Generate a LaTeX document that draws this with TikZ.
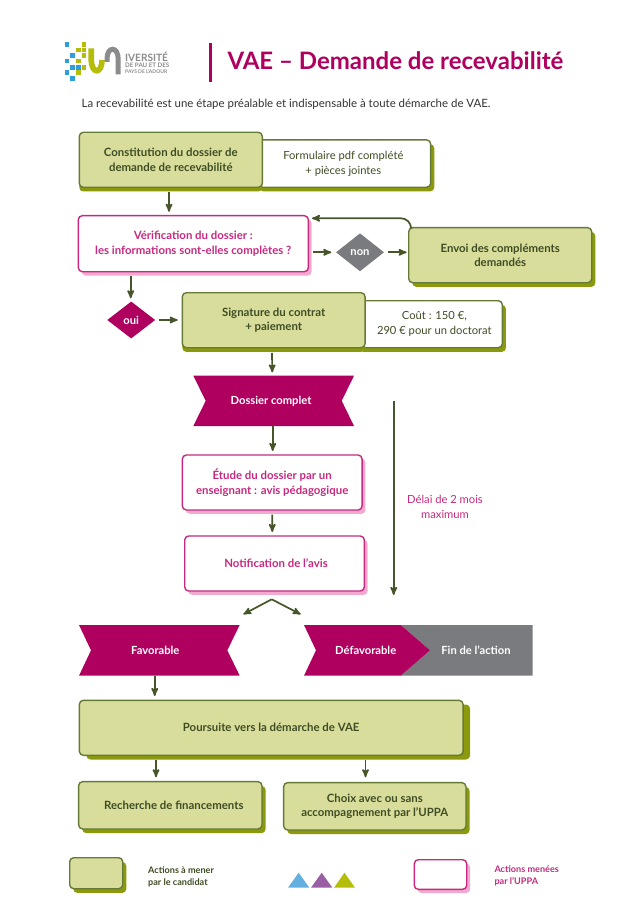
\documentclass[tikz,border=0pt]{standalone}
\usepackage{fontspec}
\setmainfont{Lato}
\usetikzlibrary{shapes.geometric,arrows,positioning,calc,shadows}
\definecolor{leaf}{HTML}{D9DD9B}
\definecolor{leafline}{HTML}{667A38}
\definecolor{leafshade}{HTML}{8A9A0C}
\definecolor{ink}{HTML}{3F4D25}
\definecolor{flowline}{HTML}{47552A}
\definecolor{plum}{HTML}{B0005F}
\definecolor{plumline}{HTML}{C52A80}
\definecolor{plumshade}{HTML}{F3A8CF}
\definecolor{slate}{HTML}{7A7B7E}
\definecolor{logoblue}{HTML}{2F9FDC}
\definecolor{logolime}{HTML}{B4BE0A}
\definecolor{logogrey}{HTML}{8C8C8C}
\definecolor{tripurple}{HTML}{9A5FA3}
\definecolor{triblue}{HTML}{63AFE0}

\begin{document}
\begin{tikzpicture}[x=1pt,y=-1pt,
	 body/.style={font=\fontsize{11.2}{14.7}\selectfont,align=center,inner sep=0pt},
	 greenbox/.style={body,rectangle,rounded corners=4pt,draw=leafline,line width=1.4pt,fill=leaf,text=ink,
		 font=\fontsize{11.4}{14.7}\selectfont\bfseries,
		 copy shadow={fill=leafshade,draw=none,shadow xshift=#1,shadow yshift=-4.2pt}},
	 greenbox/.default=3.6pt,
	 notebox/.style={body,rectangle,rounded corners=4pt,draw=leafline,line width=1.4pt,fill=white,text=ink,
		 copy shadow={fill=leafshade,draw=none,shadow xshift=3.6pt,shadow yshift=-4.2pt}},
	 plumbox/.style={body,rectangle,rounded corners=4pt,draw=plumline,line width=1.4pt,fill=white,text=plumline,
		 font=\fontsize{11.4}{14.7}\selectfont\bfseries,
		 copy shadow={fill=plumshade,draw=none,shadow xshift=3.4pt,shadow yshift=-3.8pt}},
	 choice/.style={diamond,aspect=1.27,inner sep=0pt,text=white,font=\fontsize{11.2}{13}\selectfont\bfseries},
	 ribbontext/.style={inner sep=0pt,text=white,font=\fontsize{11.2}{13}\selectfont\bfseries,minimum height=50.4pt},
	 flow/.style={draw=flowline,line width=1.7pt,-stealth'},
	 legendtext/.style={anchor=west,align=left,inner sep=0pt,font=\fontsize{9.1}{11.7}\selectfont\bfseries},
	 logotext/.style={anchor=west,inner sep=0pt,text=logogrey},
]
\fill[white] (0,0) rectangle (643,909);
\useasboundingbox (0,0) rectangle (643,909);

\foreach \sx/\sy in {67/44.3,72.7/55.7,67/61,72.7/67.3,78.3/67.3,67/72.3,72.7/78.3}
	\fill[logoblue] (\sx-2.3,\sy-2.3) rectangle (\sx+2.3,\sy+2.3);
\foreach \sx/\sy in {84/44.3,78.3/50,84/50,84/55.7,78.3/61,84/67.3,78.3/72.3}
	\fill[logolime] (\sx-2.3,\sy-2.3) rectangle (\sx+2.3,\sy+2.3);
\draw[logolime,line width=5.6pt] (91.2,48.3) -- (91.2,59) .. controls (91.2,74.5) and (102,74.5) .. (102,60);
\draw[logogrey,line width=5pt] (107,62) -- (107,59) .. controls (107,46) and (118.2,46) .. (118.2,59) -- (118.2,74.3);
\node[logotext,font=\fontsize{10.1}{9}\selectfont\bfseries] (logoa) at (125,56.7) {IVERSITÉ};
\node[logotext,font=\fontsize{6.2}{6}\selectfont\bfseries] (logob) at (125,65) {DE PAU ET DES};
\node[logotext,font=\fontsize{5}{6}\selectfont\bfseries] (logoc) at (125,71.7) {PAYS DE L'ADOUR};

\fill[plum] (208.9,43.3) rectangle (211.7,81.7);
\node[anchor=base west,inner sep=0pt,text=plum,font=\fontsize{24}{26}\selectfont\bfseries] (title) at (227.3,69.3) {VAE – Demande de recevabilité};
\node[anchor=base west,inner sep=0pt,text=black!80,font=\fontsize{11.45}{13}\selectfont] (intro) at (81.5,107.7) {La recevabilité est une étape préalable et indispensable à toute démarche de VAE.};

\node[notebox,minimum width=174.7pt,minimum height=47.3pt] (formulaire) at (343.3,163.6) {Formulaire pdf complété\\+ pièces jointes};
\node[greenbox=0pt,minimum width=183pt,minimum height=55pt] (constit) at (170.8,159.8) {Constitution du dossier de\\demande de recevabilité};
\node[plumbox,minimum width=230pt,minimum height=56pt] (verif) at (193.3,243.7) {Vérification du dossier :\\les informations sont-elles complètes ?};
\node[choice,fill=slate,minimum width=48pt,minimum height=38pt] (nonq) at (360,252.3) {non};
\node[greenbox,minimum width=183pt,minimum height=55pt] (envoi) at (500.2,255.2) {Envoi des compléments\\demandés};
\node[choice,fill=plum,minimum width=48pt,minimum height=37pt] (ouiq) at (131.2,320) {oui};
\node[notebox,minimum width=146.3pt,minimum height=47pt] (cout) at (429.15,324.2) {\hspace{10.4pt}Coût : 150 €,\\\hspace{10.4pt}290 € pour un doctorat};
\node[greenbox=0pt,minimum width=182.7pt,minimum height=55pt] (signature) at (273.7,320.2) {Signature du contrat\\+ paiement};

\fill[plum] (193.3,375.7) -- (354,375.7) -- (341.7,400.8) -- (354,426) -- (193.3,426) -- (205.7,400.8) -- cycle;
\node[ribbontext,minimum width=140pt] (complet) at (271,400.8) {Dossier complet};
\node[plumbox,minimum width=179.7pt,minimum height=55pt] (etude) at (272.2,482.5) {Étude du dossier par un\\enseignant : avis pédagogique};
\node[plumbox,minimum width=179.6pt,minimum height=55pt] (notif) at (274.5,563.5) {\hspace{3pt}Notification de l'avis};
\node[body,text=plumline] (delai) at (445,507.2) {Délai de 2 mois\\maximum};

\fill[plum] (79,625) -- (239.7,625) -- (227.3,650.3) -- (239.7,675.7) -- (79,675.7) -- (91,650.3) -- cycle;
\node[ribbontext,minimum width=120pt] (favorable) at (155.3,650.3) {Favorable};
\fill[slate] (400.7,625) -- (532.7,625) -- (532.7,675.7) -- (400.7,675.7) -- (430,650.3) -- cycle;
\fill[plum] (304,625) -- (400.7,625) -- (430,650.3) -- (400.7,675.7) -- (304,675.7) -- (316,650.3) -- cycle;
\node[ribbontext,minimum width=80pt] (defavorable) at (365.7,650.3) {Défavorable};
\node[ribbontext,minimum width=80pt] (fin) at (476,650.3) {Fin de l'action};

\node[greenbox=7pt,minimum width=383.7pt,minimum height=55pt] (poursuite) at (271.2,727.8) {Poursuite vers la démarche de VAE};
\node[greenbox,minimum width=183.3pt,minimum height=47.3pt] (recherche) at (170.3,805.3) {\hspace{7pt}Recherche de financements};
\node[greenbox,minimum width=182.3pt,minimum height=47.3pt] (choix) at (374.8,806.3) {Choix avec ou sans\\accompagnement par l'UPPA};

\coordinate (backin) at (312,218.3);
\coordinate (delaytop) at (393.7,401);
\coordinate (delaybot) at (393.7,595);
\coordinate (forkapex) at (271.7,599.3);
\coordinate (forkleft) at (243.3,614.3);
\coordinate (forkright) at (300.7,614.3);

\draw[flow] ([xshift=-1.8pt,yshift=-4.4pt]constit.south) -- ([xshift=-24.3pt,yshift=3.2pt]verif.north);
\draw[flow,shorten <=4pt,shorten >=4.5pt] (verif.east |- nonq) -- (nonq.west);
\draw[flow,shorten <=3.3pt,shorten >=1.4pt] (nonq.east) -- (envoi.west |- nonq);
\draw[flow,rounded corners=10pt] ([xshift=3pt]envoi.north west) |- (backin);
\draw[flow,shorten >=3pt] ([xshift=-62.6pt,yshift=-4pt]verif.south) -- ([xshift=-0.5pt]ouiq.north);
\draw[flow,shorten <=3.7pt,shorten >=4pt] (ouiq.east) -- (signature.west |- ouiq);
\draw[flow,shorten >=3pt] ([xshift=-1.7pt,yshift=-4.4pt]signature.south) -- ([xshift=1.3pt]complet.north);
\draw[flow,shorten >=3.3pt] ([xshift=1.7pt]complet.south) -- ([xshift=0.5pt]etude.north);
\draw[flow,shorten >=3.3pt] ([yshift=-4pt]etude.south) -- ([xshift=-2.2pt]notif.north);
\draw[flow] (delaytop) -- (delaybot);
\draw[flow] (forkapex) -- (forkleft);
\draw[flow] (forkapex) -- (forkright);
\draw[flow,shorten >=3.6pt] ([xshift=-0.6pt]favorable.south) -- ([xshift=-116.5pt]poursuite.north);
\draw[flow,shorten >=3.7pt] ([xshift=-115.2pt,yshift=-4.4pt]poursuite.south) -- ([xshift=-14.3pt]recherche.north);
\draw[flow,shorten >=4.7pt] ([xshift=94.3pt,yshift=-4.4pt]poursuite.south) -- ([xshift=-9.3pt]choix.north);

\node[greenbox,minimum width=53pt,minimum height=31pt] (keygreen) at (96.2,873.2) {};
\node[legendtext,text=ink] (keygreentext) at (148,876.8) {Actions à mener\\par le candidat};
\fill[triblue] (288,887.7) -- (298.7,872.7) -- (309.3,887.7) -- cycle;
\fill[tripurple] (311,887.7) -- (321.7,872.7) -- (332.3,887.7) -- cycle;
\fill[logolime] (334,887.7) -- (344.5,872.7) -- (355,887.7) -- cycle;
\node[plumbox,minimum width=52.4pt,minimum height=29.6pt] (keyplum) at (440.5,874.5) {};
\node[legendtext,text=plumline] (keyplumtext) at (494.3,876) {Actions menées\\par l'UPPA};
\end{tikzpicture}
\end{document}
